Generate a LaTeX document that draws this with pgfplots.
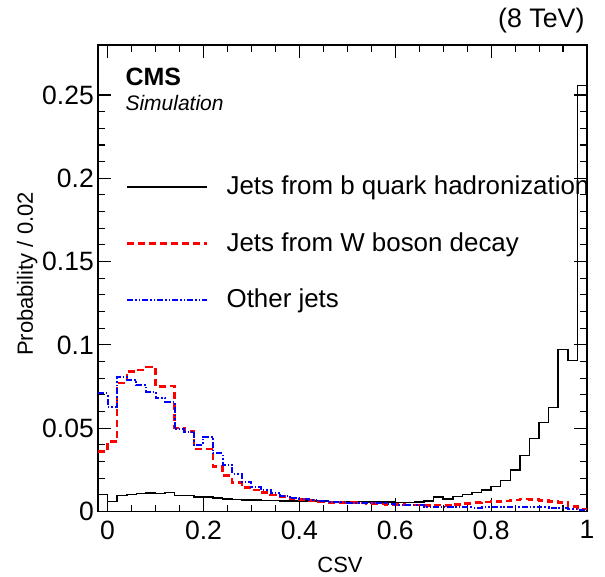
\documentclass[border=0pt]{standalone}
\usepackage{fontspec}
\setmainfont{Liberation Sans}
\usepackage{pgfplots}
\usepackage{pgfplotstable}
\pgfplotsset{compat=1.18}

% CSV discriminator, bins of 0.02 (left edges); b = b jets, w = W jets, o = other
\pgfplotstableread{
x     b      w      o
-0.02 0.0103 0.0359 0.0710
0.00  0.0061 0.0420 0.0630
0.02  0.0095 0.0770 0.0810
0.04  0.0103 0.0840 0.0790
0.06  0.0107 0.0850 0.0760
0.08  0.0110 0.0866 0.0720
0.10  0.0107 0.0750 0.0680
0.12  0.0115 0.0753 0.0660
0.14  0.0097 0.0500 0.0495
0.16  0.0096 0.0480 0.0480
0.18  0.0088 0.0375 0.0400
0.20  0.0088 0.0375 0.0450
0.22  0.0080 0.0270 0.0350
0.24  0.0076 0.0217 0.0280
0.26  0.0073 0.0173 0.0227
0.28  0.0070 0.0143 0.0180
0.30  0.0068 0.0129 0.0150
0.32  0.0066 0.0113 0.0130
0.34  0.0065 0.0099 0.0113
0.36  0.0064 0.0089 0.0093
0.38  0.0063 0.0079 0.0079
0.40  0.0063 0.0073 0.0073
0.42  0.0062 0.0065 0.0068
0.44  0.0062 0.0059 0.0064
0.46  0.0061 0.0055 0.0058
0.48  0.0060 0.0053 0.0056
0.50  0.0060 0.0053 0.0054
0.52  0.0059 0.0050 0.0053
0.54  0.0058 0.0047 0.0052
0.56  0.0057 0.0045 0.0050
0.58  0.0056 0.0043 0.0048
0.60  0.0055 0.0041 0.0042
0.62  0.0055 0.0040 0.0040
0.64  0.0058 0.0039 0.0039
0.66  0.0063 0.0035 0.0030
0.68  0.0087 0.0039 0.0028
0.70  0.0076 0.0035 0.0026
0.72  0.0089 0.0043 0.0025
0.74  0.0103 0.0049 0.0025
0.76  0.0115 0.0053 0.0024
0.78  0.0129 0.0057 0.0025
0.80  0.0149 0.0059 0.0026
0.82  0.0185 0.0063 0.0026
0.84  0.0249 0.0069 0.0027
0.86  0.0336 0.0075 0.0027
0.88  0.0439 0.0073 0.0027
0.90  0.0533 0.0067 0.0026
0.92  0.0625 0.0061 0.0024
0.94  0.0973 0.0055 0.0019
0.96  0.0905 0.0029 0.0013
0.98  0.2556 0.0015 0.0010
1.00  0.2556 0.0015 0.0010
}\csvtable

\begin{document}
\begin{tikzpicture}
\begin{axis}[
  at={(0,0)}, anchor=south west,
  scale only axis, width=489pt, height=466.5pt,
  xmin=-0.02, xmax=1, ymin=0, ymax=0.28,
  xtick={0,0.2,0.4,0.6,0.8,1},
  xticklabels={0,0.2,0.4,0.6,0.8,1},
  ytick={0,0.05,0.1,0.15,0.2,0.25},
  yticklabels={0,0.05,0.1,0.15,0.2,0.25},
  minor x tick num=3, minor y tick num=4,
  tick align=inside,
  major tick length=13pt, minor tick length=7pt,
  every tick/.style={black, line width=1.1pt},
  axis line style={line width=1.3pt},
  ticklabel style={font=\fontsize{26.5}{30}\selectfont},
  yticklabel style={inner sep=0pt, xshift=-4pt},
  xticklabel style={inner sep=0pt, yshift=-9pt},
  xlabel={CSV},
  ylabel={Probability / 0.02},
  label style={font=\fontsize{22}{26}\selectfont},
  xlabel style={at={(axis description cs:0.495,0)}, anchor=base, yshift=-60.5pt},
  ylabel style={at={(axis description cs:-0.133,0.509)}, anchor=base},
  legend style={draw=none, fill=none, at={(axis description cs:0.051,0.723)},
    anchor=north west, font=\fontsize{25.9}{30}\selectfont, row sep=33pt,
    nodes={inner sep=0pt, text height=18.5pt, text depth=5pt},
    /tikz/every odd column/.append style={column sep=18pt}},
  legend cell align=left,
  legend image code/.code={\draw[#1] (0pt,1pt) -- (80pt,1pt);},
]
\addplot[const plot mark left, black, line width=1.5pt] table[x=x, y=b] {\csvtable};
\addlegendentry{Jets from b quark hadronization}
\addplot[const plot mark left, red, line width=2.5pt, dash pattern=on 7pt off 4pt] table[x=x, y=w] {\csvtable};
\addlegendentry{Jets from W boson decay}
\addplot[const plot mark left, blue, line width=2pt,
  dash pattern=on 6pt off 2pt on 1.5pt off 2pt on 1.5pt off 2pt] table[x=x, y=o] {\csvtable};
\addlegendentry{Other jets}
\end{axis}
\node[anchor=base west, font=\bfseries\fontsize{25}{30}\selectfont] at (24pt,425.5pt) {CMS};
\node[anchor=base west, font=\itshape\fontsize{21}{25}\selectfont] at (24pt,400.5pt) {Simulation};
\node[anchor=base east, font=\fontsize{26.8}{30}\selectfont] at (490pt,484pt) {(8 TeV)};
\pgfresetboundingbox
\path[use as bounding box] (-98pt,-64.5pt) rectangle (507pt,511.5pt);
\end{tikzpicture}
\end{document}
